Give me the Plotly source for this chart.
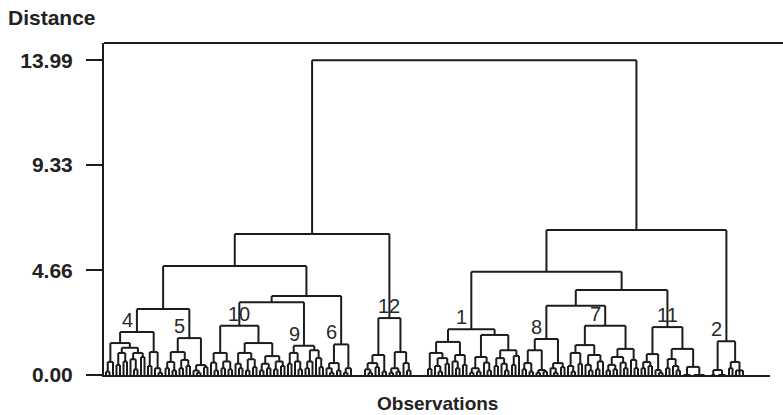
import plotly.graph_objects as go

# ---------------- data ----------------
L = "o"   # an observation (leaf)
G = "_"   # an empty slot along the observation axis

# clusters: (merge distance, child, child, ...)
C4 = (1.91,
      (1.42,
       (0.58, (0.15, L, L), L),
       (1.21,
        (0.98, (0.45, L, L), (0.6, L, L)),
        (0.98, (0.7, L, (0.25, L, L)), (0.8, L, L)))),
      (1.02, (0.4, L, L), (0.3, L, (0.1, L, L))))

C5 = (1.64,
      (1.02, (0.58, (0.3, L, L), (0.2, L, L)), (0.67, (0.3, L, L), (0.4, L, L))),
      (0.44, (0.2, L, (0.1, L, L)), (0.35, L, L)))

C10 = (2.19,
       (0.98, (0.55, L, (0.2, L, L)), (0.6, (0.3, L, L), (0.25, L, L))),
       (1.42,
        (0.98, (0.5, L, (0.3, L, L)), (0.7, (0.2, L, L), (0.35, L, L))),
        (0.84, (0.5, (0.2, L, L), (0.3, L, L)), (0.6, (0.25, L, L), (0.4, L, L)))))

C9 = (1.30,
      (0.98, (0.5, L, L), (0.6, L, (0.25, L, L))),
      (1.1, (0.6, (0.3, L, L), L), (0.75, L, (0.35, L, L))))

C6 = (1.36,
      (0.53, (0.3, L, (0.1, L, L)), (0.2, L, L)),
      (0.3, (0.1, L, L), L))

C12 = (2.53,
       (0.89, (0.53, (0.25, L, (0.1, L, L)), (0.35, L, L)), (0.15, L, L)),
       (1.02, (0.3, (0.1, L, L), (0.15, L, L)), (0.53, L, (0.2, L, L))))

C1 = (2.03,
      (1.47,
       (0.98, (0.27, L, L), (0.75, (0.4, L, (0.15, L, L)), (0.5, L, L))),
       (0.89, (0.6, L, (0.3, L, L)), (0.45, L, L))),
      (1.78,
       (0.8, (0.3, (0.1, L, L), (0.15, L, L)), (0.55, L, (0.2, L, L))),
       (1.1, (0.75, (0.4, L, L), (0.5, L, (0.2, L, L))), (0.85, (0.45, L, L), L))))

C8 = (1.60,
      (1.1, (0.53, (0.25, L, L), (0.15, L, L)), (0.22, (0.1, L, L), (0.15, L, L))),
      (0.53, (0.3, L, (0.1, L, L)), (0.35, L, L)))

C7 = (2.19,
      (1.33,
       (0.98, (0.4, L, (0.15, L, L)), (0.5, L, L)),
       (0.89, (0.45, L, (0.2, L, L)), (0.6, (0.25, L, L), L))),
      (1.16,
       (0.8, (0.45, (0.2, L, L), (0.25, L, L)), (0.55, L, (0.3, L, L))),
       (0.67, L, (0.3, L, L))))

C11 = (2.13,
       (0.93, (0.58, (0.3, L, L), (0.4, L, L)), (0.22, L, (0.1, L, L))),
       (1.16, (0.71, (0.3, L, L), (0.4, L, (0.2, L, L))),
        (0.36, (0.0, L, L, L), (0.0, L, L, L, L))))

C2 = (1.50,
      (0.22, (0.0, L, L), (0.0, L, L, L)),
      (0.58, (0.3, L, L), (0.2, L, L, L)))

LEFT = (6.27, (4.84, (2.93, C4, C5), (3.51, (3.23, C10, C9), C6)), G, G, G, C12)
RIGHT = (6.44, (4.59, C1, (3.78, (3.08, C8, C7), C11)), G, C2)
ROOT = (13.99, LEFT, G, G, G, G, RIGHT)

cluster_labels = [("4", C4), ("5", C5), ("10", C10), ("9", C9), ("6", C6),
                  ("12", C12), ("1", C1), ("8", C8), ("7", C7), ("11", C11),
                  ("2", C2)]

tick_values = [0.00, 4.66, 9.33, 13.99]
tick_labels = ["0.00", "4.66", "9.33", "13.99"]

# ---------------- layout of the tree ----------------
seg_x, seg_y = [], []
node_pos = []
counter = [0]


def place(node):
    if isinstance(node, str):
        pos = counter[0]
        counter[0] += 1
        return None if node == G else (pos, 0.0)
    h = node[0]
    kids = [r for r in (place(c) for c in node[1:]) if r is not None]
    xs = [k[0] for k in kids]
    seg_x.extend([min(xs), max(xs), None])
    seg_y.extend([h, h, None])
    for kx, kh in kids:
        seg_x.extend([kx, kx, None])
        seg_y.extend([kh, h, None])
    x = (xs[0] + xs[-1]) / 2.0
    node_pos.append((node, x, h))
    return (x, h)


place(ROOT)

fig = go.Figure()
fig.add_trace(go.Scatter(x=seg_x, y=seg_y, mode="lines",
                         line=dict(color="#1c1c1c", width=2),
                         hoverinfo="skip", showlegend=False))

for text, cl in cluster_labels:
    for nd, x, h in node_pos:
        if nd is cl:
            two = len(text) > 1
            fig.add_annotation(x=x, y=h, text=text, showarrow=False,
                               xanchor="center" if two else "right",
                               xshift=0 if two else -2,
                               yanchor="bottom", yshift=-1,
                               font=dict(family="Liberation Sans, Arial", size=20,
                                         color="#2a2a2a"))
            break

fig.add_annotation(xref="paper", yref="paper", x=-0.147, y=1.077,
                   xanchor="left", yanchor="middle", text="Distance",
                   showarrow=False,
                   font=dict(family="Liberation Sans, Arial", size=21,
                             color="#222", weight="bold"))
fig.add_annotation(xref="paper", yref="paper", x=0.5, y=-0.086,
                   xanchor="center", yanchor="middle", text="Observations",
                   showarrow=False,
                   font=dict(family="Liberation Sans, Arial", size=19,
                             color="#222", weight="bold"))

# top frame line
fig.add_shape(type="line", xref="paper", yref="paper", x0=0, x1=1.02, y0=1, y1=1,
              line=dict(color="#1c1c1c", width=2))

fig.update_layout(
    width=783, height=415,
    margin=dict(l=104, r=13, t=43, b=40),
    paper_bgcolor="white", plot_bgcolor="white",
    xaxis=dict(range=[-0.571, 189.71], showgrid=False, zeroline=False,
               showticklabels=False, ticks="", showline=True,
               linecolor="#1c1c1c", linewidth=2),
    yaxis=dict(range=[0, 14.756], showgrid=False, zeroline=False,
               tickvals=tick_values, ticktext=tick_labels,
               ticks="outside", ticklen=16, tickwidth=2, tickcolor="#1c1c1c",
               ticklabelstandoff=9,
               showline=True, linecolor="#1c1c1c", linewidth=2,
               tickfont=dict(family="Liberation Sans, Arial", size=21,
                             color="#222", weight="bold")),
)

fig.write_html("out.html",
               config={"displayModeBar": False},
               post_script="document.body.style.margin='0px';"
                           "document.body.style.overflow='hidden';")
